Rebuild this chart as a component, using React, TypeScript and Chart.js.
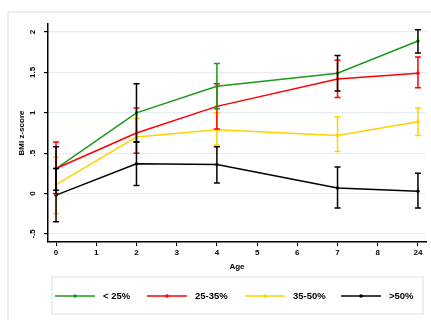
import React, { useEffect, useRef } from "react";
import { Chart, registerables } from "chart.js";

Chart.register(...registerables);

// ---- data ----
const xPositions = [0, 2, 4, 7, 9];
const xTickPositions = [0, 1, 2, 3, 4, 5, 6, 7, 8, 9];
const xTickLabels = ["0", "1", "2", "3", "4", "5", "6", "7", "8", "24"];
const yTickValues = [-0.5, 0, 0.5, 1, 1.5, 2];
const yTickLabels = ["-.5", "0", ".5", "1", "1.5", "2"];

const seriesNames = ["< 25%", "25-35%", "35-50%", ">50%"];

const lt25 = [0.31, 1.0, 1.33, 1.49, 1.89];
const lt25Lo = [0.04, 0.64, 1.05, 1.27, 1.74];
const lt25Hi = [0.58, 1.36, 1.61, 1.71, 2.03];

const r2535 = [0.31, 0.75, 1.08, 1.42, 1.49];
const r2535Lo = [0.0, 0.5, 0.8, 1.19, 1.31];
const r2535Hi = [0.64, 1.06, 1.36, 1.65, 1.69];

const r3550 = [0.11, 0.7, 0.79, 0.72, 0.89];
const r3550Lo = [-0.25, 0.5, 0.6, 0.52, 0.72];
const r3550Hi = [0.45, 0.93, 1.0, 0.95, 1.06];

const gt50 = [-0.02, 0.37, 0.36, 0.07, 0.03];
const gt50Lo = [-0.35, 0.1, 0.13, -0.18, -0.18];
const gt50Hi = [0.31, 0.64, 0.58, 0.33, 0.25];

const GREEN = "#1c981c";
const RED = "#ff0000";
const YELLOW = "#ffd200";
const BLACK = "#000000";

const seriesColors = [GREEN, RED, YELLOW, BLACK];
// colour of each confidence bar of the "< 25%" series, as in the reference
const lt25BarColors = [BLACK, BLACK, GREEN, BLACK, BLACK];

const FONT = "'Liberation Sans', Arial, sans-serif";

export default function App() {
  const ref = useRef<HTMLCanvasElement | null>(null);

  useEffect(() => {
    if (!ref.current) return;

    const errorBars = [
      { lo: r3550Lo, hi: r3550Hi, colors: xPositions.map(() => YELLOW) },
      { lo: r2535Lo, hi: r2535Hi, colors: xPositions.map(() => RED) },
      { lo: gt50Lo, hi: gt50Hi, colors: xPositions.map(() => BLACK) },
      { lo: lt25Lo, hi: lt25Hi, colors: lt25BarColors },
    ];

    const errorBarPlugin = {
      id: "errorBars",
      afterDatasetsDraw(chart: any) {
        const { ctx, scales } = chart;
        const xs = scales.x;
        const ys = scales.y;
        ctx.save();
        ctx.lineWidth = 1.5;
        errorBars.forEach((eb) => {
          xPositions.forEach((xv, i) => {
            const px = xs.getPixelForValue(xv);
            const pLo = ys.getPixelForValue(eb.lo[i]);
            const pHi = ys.getPixelForValue(eb.hi[i]);
            ctx.strokeStyle = eb.colors[i];
            ctx.beginPath();
            ctx.moveTo(px, pLo);
            ctx.lineTo(px, pHi);
            ctx.moveTo(px - 3, pLo);
            ctx.lineTo(px + 3, pLo);
            ctx.moveTo(px - 3, pHi);
            ctx.lineTo(px + 3, pHi);
            ctx.stroke();
          });
        });
        ctx.restore();
      },
    };

    const framePlugin = {
      id: "frameLegend",
      beforeDraw(chart: any) {
        const { ctx } = chart;
        ctx.save();
        ctx.fillStyle = "#ffffff";
        ctx.fillRect(0, 0, chart.width, chart.height);
        ctx.strokeStyle = "#e4edf1";
        ctx.lineWidth = 1.5;
        ctx.strokeRect(8, 12, 440, 400);
        ctx.restore();
      },
      afterDraw(chart: any) {
        const { ctx } = chart;
        ctx.save();
        // legend box
        ctx.strokeStyle = "#dce7ed";
        ctx.lineWidth = 1.2;
        ctx.strokeRect(52, 277, 371, 37);
        const lineStarts = [55, 147, 245, 341];
        const cy = 296;
        ctx.font = `bold 9.5px ${FONT}`;
        ctx.textBaseline = "middle";
        ctx.textAlign = "left";
        seriesNames.forEach((name, i) => {
          const x0 = lineStarts[i];
          ctx.strokeStyle = seriesColors[i];
          ctx.lineWidth = 1.5;
          ctx.beginPath();
          ctx.moveTo(x0, cy);
          ctx.lineTo(x0 + 40, cy);
          ctx.stroke();
          ctx.fillStyle = seriesColors[i];
          ctx.beginPath();
          ctx.arc(x0 + 20, cy, 1.8, 0, Math.PI * 2);
          ctx.fill();
          ctx.fillStyle = "#000";
          ctx.fillText(name, x0 + 48, cy);
        });
        ctx.restore();
      },
    };

    const mk = (label: string, data: number[], color: string) => ({
      label,
      data: data.map((y, i) => ({ x: xPositions[i], y })),
      borderColor: color,
      backgroundColor: color,
      pointBackgroundColor: color,
      pointBorderColor: color,
      borderWidth: 1.5,
      pointRadius: 1.7,
      pointBorderWidth: 0,
      tension: 0,
    });

    const chart = new Chart(ref.current, {
      type: "line",
      data: {
        datasets: [
          mk(seriesNames[3], gt50, BLACK),
          mk(seriesNames[2], r3550, YELLOW),
          mk(seriesNames[1], r2535, RED),
          mk(seriesNames[0], lt25, GREEN),
        ],
      },
      options: {
        animation: false,
        responsive: true,
        maintainAspectRatio: false,
        layout: { padding: { left: 8, top: 24, right: 5, bottom: 48 } },
        plugins: { legend: { display: false }, tooltip: { enabled: false } },
        scales: {
          x: {
            type: "linear",
            min: -0.2,
            max: 9.2,
            afterBuildTicks: (s: any) => {
              s.ticks = xTickPositions.map((v) => ({ value: v }));
            },
            afterFit: (s: any) => {
              s.height = 30;
            },
            ticks: {
              autoSkip: false,
              maxRotation: 0,
              minRotation: 0,
              padding: 2,
              color: "#000",
              font: { family: FONT, size: 8, weight: "bold" },
              callback: (_v: any, i: number) => xTickLabels[i],
            },
            grid: {
              drawOnChartArea: false,
              drawTicks: true,
              tickLength: 4,
              tickColor: "#000",
            },
            border: { color: "#000", width: 1.5 },
            title: {
              display: true,
              text: "Age",
              color: "#000",
              font: { family: FONT, size: 8, weight: "bold" },
              padding: { top: 0, bottom: 0 },
            },
          },
          y: {
            type: "linear",
            min: -0.6,
            max: 2.1,
            afterBuildTicks: (s: any) => {
              s.ticks = yTickValues.map((v) => ({ value: v }));
            },
            afterFit: (s: any) => {
              s.width = 40;
            },
            ticks: {
              autoSkip: false,
              minRotation: 90,
              maxRotation: 90,
              crossAlign: "center",
              padding: 6,
              color: "#000",
              font: { family: FONT, size: 8, weight: "bold" },
              callback: (_v: any, i: number) => yTickLabels[i],
            },
            grid: {
              color: "#e4edf1",
              lineWidth: 1.2,
              tickColor: "#000",
              tickLength: 4,
            },
            border: { color: "#000", width: 1.5 },
            title: {
              display: true,
              text: "BMI z-score",
              color: "#000",
              font: { family: FONT, size: 8, weight: "bold" },
              padding: 9,
            },
          },
        },
      },
      plugins: [framePlugin, errorBarPlugin],
    } as any);

    return () => chart.destroy();
  }, []);

  return (
    <div style={{ position: "fixed", left: 0, top: 0, width: 431, height: 320, background: "#fff" }}>
      <canvas ref={ref} width={431} height={320} />
    </div>
  );
}
